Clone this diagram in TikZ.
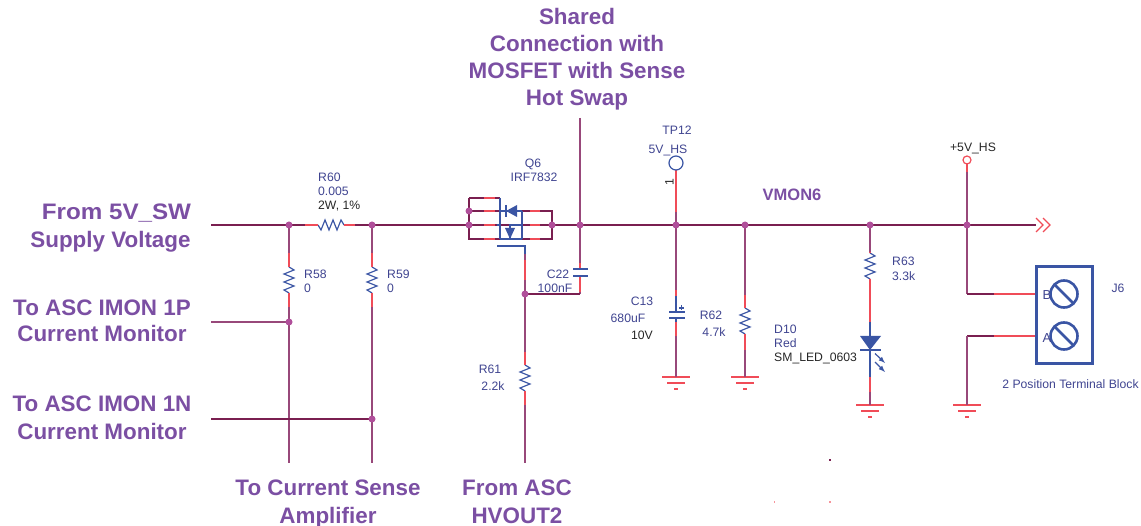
\documentclass[tikz,border=0pt]{standalone}
\usepackage{fontspec}
\setmainfont{Liberation Sans}
\definecolor{hw}{HTML}{7A1F50}
\definecolor{vw}{HTML}{98487A}
\definecolor{rd}{HTML}{F04C58}
\definecolor{bl}{HTML}{3A55A4}
\definecolor{txt}{HTML}{3F4490}
\definecolor{pur}{HTML}{7B4FA3}
\definecolor{dotc}{HTML}{B04F9A}
\tikzset{
  hwire/.style={draw=hw,line width=1.1pt},
  vwire/.style={draw=vw,line width=1.2pt},
  lead/.style={draw=rd,line width=1.2pt},
  comp/.style={draw=bl,line width=1.2pt},
  junc/.style={circle,fill=dotc,inner sep=0pt,minimum size=7pt},
  lab/.style={text=txt,font=\fontsize{12.2}{13}\selectfont,inner sep=0pt,text height=9pt,text depth=0pt},
  labk/.style={text=black!85,font=\fontsize{12.2}{13}\selectfont,inner sep=0pt,text height=9pt,text depth=0pt},
  head/.style={text=pur,font=\bfseries\fontsize{22.4}{24}\selectfont,inner sep=0pt,text height=16pt,text depth=0pt},
  resv/.pic={
    \coordinate (a) at (0,-13); \coordinate (b) at (0,13);
    \draw[comp] (0,-13)--(5,-10)--(-5,-6)--(5,-2)--(-5,2)--(5,6)--(-5,10)--(0,13);
  },
  resh/.pic={
    \coordinate (a) at (-13,0); \coordinate (b) at (13,0);
    \draw[comp] (-13,0)--(-10,5)--(-6,-5)--(-2,5)--(2,-5)--(6,5)--(10,-5)--(13,0);
  },
  gnd/.pic={
    \coordinate (a) at (0,0);
    \draw[draw=rd,line width=1.2pt] (-14,0)--(14,0) (-9,6)--(9,6) (-2,12)--(2,12);
  },
  screw/.pic={
    \draw[draw=bl,line width=2.6pt] (0,0) circle (13.5);
    \draw[draw=bl,line width=2.6pt] (-9.5,-9.5)--(9.5,9.5);
  },
}
\begin{document}
\begin{tikzpicture}[x=1pt,y=-1pt]
\useasboundingbox (0,0) rectangle (1141,526);
% ---- free ends
\coordinate (in5v) at (211,225);
\coordinate (in1p) at (211,322);
\coordinate (in1n) at (211,419);
\coordinate (end1) at (289,463);
\coordinate (end2) at (372,463);
\coordinate (end3) at (525,463);
\coordinate (top) at (580,118);
\coordinate (out) at (1036,225);
\coordinate (c22b) at (580,294);
\coordinate (cn1) at (967,294);
\coordinate (cn2) at (967,336);
\coordinate (pinB) at (1036,294);
\coordinate (pinA) at (1036,336);
\coordinate (gt) at (525,246);
\coordinate (gl) at (497,246);
\coordinate (qtl) at (469,198);
\coordinate (qbl) at (469,239);
\coordinate (qtm) at (500,198);
\coordinate (qbm) at (500,239);
\coordinate (qbr) at (552,239);
\coordinate (qtr) at (552,211);
\coordinate (qk) at (522,211);
\coordinate (qk2) at (522,239);
\coordinate (qc) at (522,225);
\coordinate (qa) at (510,225);
\coordinate (qa2) at (510,239);
% ---- components
\pic (R60) at (331,225) {resh};
\pic (R58) at (289,280) {resv};
\pic (R59) at (372,280) {resv};
\pic (R61) at (525,378) {resv};
\pic (R62) at (745,321) {resv};
\pic (R63) at (870,266) {resv};
\pic (G13) at (676,377) {gnd};
\pic (G62) at (745,377) {gnd};
\pic (G10) at (870,405) {gnd};
\pic (GJ) at (967,405) {gnd};
% ---- wires
\draw[hwire] (in5v) -- (R60a);
\draw[hwire] (R60b) -- (qbl |- in5v) -- (out);
\draw[vwire] (289,225) -- (R58a);
\draw[vwire] (R58b) -- (end1);
\draw[vwire] (372,225) -- (R59a);
\draw[vwire] (R59b) -- (end2);
\draw[vwire] (in1p) -- (289,322);
\draw[hwire] (in1n) -- (372,419);
\draw[hwire] (qtl) -- (qbl) -- (qbr) -- (qtr) -- (469,211);
\draw[hwire] (qtl) -- (qtm);
\draw[vwire] (top) -- (c22b |- in5v) -- (580,269);
\draw[vwire] (580,276) -- (c22b);
\draw[hwire] (c22b) -- (525,294);
\draw[vwire] (gt) -- (R61a);
\draw[vwire] (R61b) -- (end3);
\draw[vwire] (676,170) -- (676,312);
\draw[vwire] (676,318) -- (G13a);
\draw[vwire] (745,225) -- (R62a);
\draw[vwire] (R62b) -- (G62a);
\draw[vwire] (870,225) -- (R63a);
\draw[vwire] (R63b) -- (870,336);
\draw[vwire] (870,375) -- (G10a);
\draw[vwire] (967,164) -- (cn1);
\draw[hwire] (cn1) -- (pinB);
\draw[hwire] (pinA) -- (cn2);
\draw[vwire] (cn2) -- (GJa);
% red overlay segments
\draw[lead] (305,225) -- (R60a) (R60b) -- (355,225);
\draw[lead] (289,253) -- (R58a) (R58b) -- (289,307);
\draw[lead] (372,253) -- (R59a) (R59b) -- (372,307);
\draw[lead] (525,260) -- (525,280) (525,352) -- (R61a) (R61b) -- (525,405);
\draw[lead] (580,263) -- (580,269) (580,276) -- (580,292);
\draw[lead] (676,170) -- (676,212) (676,290) -- (676,312) (676,318) -- (676,336);
\draw[lead] (745,295) -- (R62a) (R62b) -- (745,350);
\draw[lead] (870,252) -- (R63a) (R63b) -- (870,322);
\draw[lead] (870,375) -- (870,392);
\draw[lead] (994,294) -- (pinB) (994,336) -- (pinA);
\draw[lead] (967,164) -- (967,172);
\draw[lead] (484,198) -- (495,198) (484,239) -- (495,239) (484,211) -- (495,211) (484,225) -- (495,225);
\draw[lead] (530,239) -- (540,239) (530,211) -- (540,211) (530,225) -- (540,225);
% ---- MOSFET
\draw[comp] (qtm) -- (qbm);
\draw[comp] (qk) -- (qk2);
\draw[comp] (qc) -- (qa) -- (qa2);
\draw[comp] (500,211) -- (qk);
\draw[comp] (500,225) -- (497,225);
\draw[comp] (500,239) -- (qk2);
\fill[bl] (506,211) -- (517,205) -- (517,217) -- cycle;
\draw[comp,line width=1.4pt] (506,205) -- (506,217);
\fill[bl] (510,239) -- (505,228) -- (515,228) -- cycle;
\draw[comp] (gl) -- (gt) -- (525,254);
% ---- C22
\draw[comp] (573,269) -- (588,269) (573,276) -- (588,276);
% ---- C13
\draw[comp] (669,312) -- (685,312) (669,318) -- (685,318);
\draw[comp] (676,296) -- (676,312) (676,318) -- (676,322);
\draw[comp] (679,308) -- (684,308) (681.5,305.5) -- (681.5,310.5);
% ---- LED
\draw[comp] (870,322) -- (870,336);
\fill[bl] (860,336) -- (881,336) -- (870,350) -- cycle;
\draw[comp,line width=1.4pt] (860,350) -- (881,350);
\draw[comp] (870,350) -- (870,377);
\draw[comp,-latex] (875,353.5) -- (885,363);
\draw[comp,-latex] (875,362) -- (885,372);
% ---- test points
\node[circle,draw=bl,line width=1.2pt,fill=white,minimum size=14pt,inner sep=0pt] (tp12) at (676,163) {};
\node[circle,draw=rd,line width=1.2pt,fill=white,minimum size=8pt,inner sep=0pt] (tp5) at (967,160) {};
% ---- chevrons
\draw[draw=rd,line width=1.2pt] (1036,218) -- (1043,225) -- (1036,232) (1043,218) -- (1050,225) -- (1043,232);
% ---- terminal block
\draw[draw=bl,line width=3pt] (1036,267) rectangle (1092,364);
\pic at (1064,294) {screw};
\pic at (1064,336) {screw};
% ---- junction dots
\foreach \n/\p in {j1/{289,225},j2/{372,225},j3/{469,225},j3b/{469,211},j4/{552,225},j5/{580,225},j6/{676,225},j7/{745,225},j8/{870,225},j9/{967,225},jg/{525,294},j1p/{289,322},j1n/{372,419}}
  \node[junc] (\n) at (\p) {};
% ---- part labels
\node[lab,anchor=west] (tR60) at (318,177) {R60};
\node[lab,anchor=west] (vR60) at (318,191) {0.005};
\node[labk,anchor=west] (wR60) at (318,205) {2W, 1\%};
\node[lab,anchor=west] (tR58) at (304,274) {R58};
\node[lab,anchor=west] (vR58) at (304,288) {0};
\node[lab,anchor=west] (tR59) at (387,274) {R59};
\node[lab,anchor=west] (vR59) at (387,288) {0};
\node[lab] (tQ6) at (533,163) {Q6};
\node[lab] (vQ6) at (534,177) {IRF7832};
\node[lab] (tC22) at (558,274) {C22};
\node[lab] (vC22) at (555,288) {100nF};
\node[lab] (tR61) at (490,369) {R61};
\node[lab] (vR61) at (493,386) {2.2k};
\node[lab] (tTP) at (677,130) {TP12};
\node[lab] (vTP) at (668,149) {5V\_HS};
\node[labk,rotate=90] (nTP) at (669,182) {1};
\node[lab] (tC13) at (642,301) {C13};
\node[lab] (vC13) at (628,318) {680uF};
\node[labk] (wC13) at (642,335) {10V};
\node[lab] (tR62) at (711,315) {R62};
\node[lab] (vR62) at (714,332) {4.7k};
\node[lab,anchor=west] (tD10) at (774,329) {D10};
\node[lab,anchor=west] (vD10) at (774,343) {Red};
\node[labk,anchor=west] (wD10) at (774,357) {SM\_LED\_0603};
\node[lab,anchor=west] (tR63) at (892,261) {R63};
\node[lab,anchor=west] (vR63) at (892,276) {3.3k};
\node[labk] (t5V) at (973,147) {+5V\_HS};
\node[lab] (tJ6) at (1118,288) {J6};
\node[lab,font=\fontsize{13}{13}\selectfont] (pB) at (1047,295) {B};
\node[lab,font=\fontsize{13}{13}\selectfont] (pA) at (1047,338) {A};
\node[lab] (tBlock) at (1070.5,384) {2 Position Terminal Block};
\node[text=pur,font=\bfseries\fontsize{16.5}{18}\selectfont,inner sep=0pt] (vmon) at (792,195) {VMON6};
% ---- headings
\node[head] (h1) at (577,17) {Shared};
\node[head] (h2) at (577,44) {Connection with};
\node[head] (h3) at (577,71) {MOSFET with Sense};
\node[head] (h4) at (577,98) {Hot Swap};
\node[head,xscale=1.08] (h5) at (116.5,212) {From 5V\_SW};
\node[head] (h6) at (110.5,240) {Supply Voltage};
\node[head] (h7) at (102,308) {To ASC IMON 1P};
\node[head] (h8) at (102,334) {Current Monitor};
\node[head] (h9) at (102,404) {To ASC IMON 1N};
\node[head] (h10) at (102,431) {Current Monitor};
\node[head] (h11) at (328,488) {To Current Sense};
\node[head] (h12) at (328,515) {Amplifier};
\node[head] (h13) at (517,488) {From ASC};
\node[head] (h14) at (517,515) {HVOUT2};
% ---- stray specks
\fill[hw] (829,459.5) rectangle +(1.5,1.5);
\fill[rd!60] (773.5,501) rectangle +(1.5,1.5);
\fill[rd!60] (829,501) rectangle +(1.5,1.5);
\end{tikzpicture}
\end{document}
